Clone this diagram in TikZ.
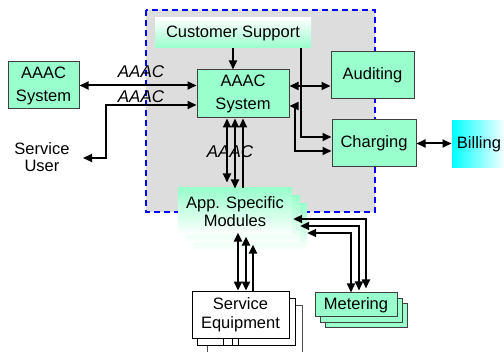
\documentclass[tikz,border=0pt]{standalone}
\usepackage{fontspec}
\setmainfont{Liberation Sans}
\usetikzlibrary{arrows.meta,calc,positioning}
\definecolor{mint}{RGB}{153,255,204}
\definecolor{panel}{RGB}{221,221,221}
\tikzset{box/.style={draw=black!75,line width=1pt,fill=mint,align=center,inner sep=0pt,font=\fontsize{16.5}{23}\selectfont},
  ghost/.style={inner sep=0pt,minimum width=114pt,minimum height=47pt,top color=mint,bottom color=white},
  equip/.style={draw,fill=white,line width=0.8pt,inner sep=0pt,minimum height=47pt,align=center,font=\fontsize{16.5}{19}\selectfont},
  meter/.style={box,minimum width=82pt,minimum height=24pt},
  arr/.style={-{Triangle[length=9pt,width=8pt]},line width=2pt},
  dbl/.style={{Triangle[length=9pt,width=8pt]}-{Triangle[length=9pt,width=8pt]},line width=2pt},
  lbl/.style={inner sep=0pt,font=\fontsize{17}{19}\selectfont\itshape}}
\begin{document}
\begin{tikzpicture}[x=1pt,y=-1pt]
\useasboundingbox (0,0) rectangle (504,352);
\draw[blue,dash pattern=on 6pt off 4pt,line width=1.1pt,fill=panel] (146,10) rectangle (375,212);
\node[box,draw=none,top color=white,bottom color=mint,minimum width=156pt,minimum height=30pt] (cs) at (233,33) {Customer Support};
\node[box,minimum width=92pt,minimum height=48pt] (sys) at (243,94) {AAAC\\System};
\node[box,minimum width=71pt,minimum height=47pt] (ext) at (43.5,85.5) {AAAC\\System};
\node[box,minimum width=83pt,minimum height=47pt] (aud) at (372.5,75.5) {Auditing};
\node[box,minimum width=84pt,minimum height=47pt] (chg) at (374,143.5) {Charging};
\node[box,draw=none,left color=cyan,right color=white,minimum width=54pt,minimum height=47pt] (bill) at (479,144.5) {Billing};
\node[align=center,inner sep=0pt,font=\fontsize{16.5}{16.5}\selectfont] (user) at (42,157) {Service\\User};
\coordinate (uend) at (83,158);
\node[ghost] (asm3) at (250,227.5) {};
\node[ghost] (asm2) at (243,219.5) {};
\node[ghost,align=center,font=\fontsize{16.5}{18}\selectfont] (asm) at (235,211.5) {App. Specific\\Modules};
\node[equip,draw=black!70,minimum width=95pt] (eq3) at (254.5,328.5) {};
\draw[line width=0.8pt] ($(eq3.north)+(-24.5,17)$) -- ++(0,20);
\draw[line width=0.8pt] ($(eq3.north)+(-16.5,17)$) -- ++(0,20);
\node[equip,minimum width=98pt] (eq2) at (246,321.5) {};
\node[equip,minimum width=97pt] (eq) at (240.5,314.5) {Service\\Equipment};
\draw[line width=0.8pt] ($(eq.south)+(-17.5,0)$) -- ++(0,7);
\draw[line width=0.8pt] ($(eq.south)+(-8.5,0)$) -- ++(0,7);
\draw[line width=0.8pt] ($(eq.south)+(-2.5,0)$) -- ++(0,7);
\node[meter] (met3) at (366,316) {};
\node[meter] (met2) at (361,310.5) {};
\node[meter] (met) at (356,305) {Metering};
\draw[dbl] (ext.east) -- (ext.east -| sys.west);
\node[lbl] (l1) at (141,72) {AAAC};
\draw[dbl] (uend) -| ($(sys.west)+(-91,11)$) -- ($(sys.west)+(0,11)$);
\node[lbl] (l2) at (141,97) {AAAC};
\draw[arr] (cs.south) -- (cs.south |- sys.north);
\draw[arr] ($(cs.south east)+(-11,0)$) |- ($(chg.west)+(0,-6.5)$);
\draw[dbl] ($(sys.east)+(0,-8)$) -- ($(aud.west)+(0,10.5)$);
\draw[dbl] ($(sys.east)+(0,12)$) -- ++(5,0) |- ($(chg.west)+(0,7.5)$);
\draw[dbl] (chg.east) -- (chg.east -| bill.west);
\draw[dbl] ($(sys.south)+(-16,0)$) -- ($(sys.south)+(-16,64)$);
\draw[dbl] ($(sys.south)+(-8,0)$) -- ($(sys.south)+(-8,70)$);
\draw[arr] ($(sys.south)+(0,70)$) -- (sys.south);
\node[lbl] (l3) at (230,152) {AAAC};
\draw[dbl] ($(eq.north)+(-2.5,-58)$) -- ($(eq.north)+(-2.5,0)$);
\draw[dbl] ($(eq.north)+(5.5,-54)$) -- ($(eq.north)+(5.5,0)$);
\draw[arr] ($(eq.north)+(12.5,0)$) -- ($(eq.north)+(12.5,-46)$);
\draw[dbl] ($(asm.east)+(1,7.5)$) -| ($(met.north)+(10,-4)$);
\draw[dbl] ($(asm2.east)+(0,6.5)$) -| ($(met.north)+(3,-2)$);
\draw[dbl] ($(asm3.east)+(0,5.5)$) -| ($(met.north)+(-5,0)$);
\end{tikzpicture}
\end{document}
